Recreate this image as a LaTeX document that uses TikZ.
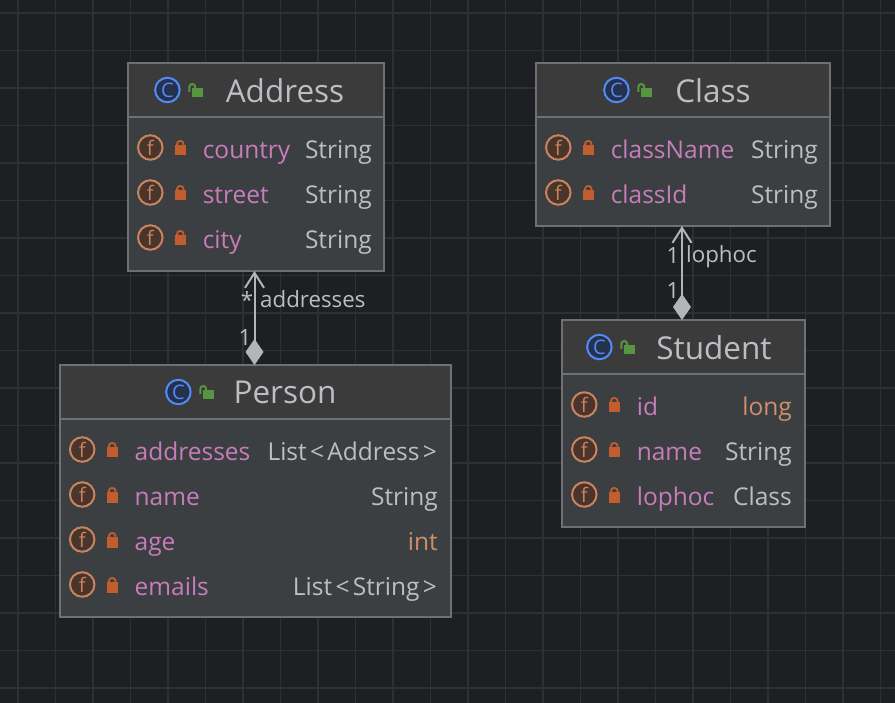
\documentclass[tikz,border=0pt]{standalone}
\usepackage{fontspec}
\setmainfont{Open Sans}
\usetikzlibrary{arrows.meta}
\definecolor{bg}{HTML}{1E1F22}
\definecolor{gridc}{HTML}{2F3032}
\definecolor{bodyc}{HTML}{3C3F41}
\definecolor{headc}{HTML}{3B3B3B}
\definecolor{edgec}{HTML}{6E7174}
\definecolor{textc}{HTML}{BCBEC4}
\definecolor{fieldc}{HTML}{C77DBB}
\definecolor{kwc}{HTML}{CF8E6D}
\definecolor{fring}{HTML}{C9835E}
\definecolor{ffill}{HTML}{4A352C}
\definecolor{lockc}{HTML}{C25E2E}
\definecolor{greenc}{HTML}{57963F}
\definecolor{cblue}{HTML}{548AF7}
\definecolor{cfill}{HTML}{25324D}
\definecolor{linkc}{HTML}{B4B5B8}
\newcommand{\ltg}{\kern3.4pt<\kern3.2pt}
\newcommand{\gtg}{\kern3.2pt>\kern1pt}
\tikzset{
  x=1pt,y=-1pt,
  boxbody/.style={draw=edgec,line width=2pt,fill=bodyc,anchor=north west,inner sep=0pt,outer sep=0pt},
  boxhead/.style={fill=headc,anchor=north west,inner sep=0pt,outer sep=0pt},
  titletext/.style={text=textc,font=\fontsize{31.5}{31.5}\selectfont,inner sep=0pt},
  fieldtext/.style={text=fieldc,font=\fontsize{24.5}{24.5}\selectfont,anchor=base west,inner sep=0pt},
  typetext/.style={text=textc,font=\fontsize{24.5}{24.5}\selectfont,anchor=base east,inner sep=0pt},
  kwtext/.style={typetext,text=kwc},
  labeltext/.style={text=textc,font=\fontsize{22.3}{22.3}\selectfont,inner sep=0pt},
  ficon/.style={circle,draw=fring,fill=ffill,line width=2pt,minimum size=24.5pt,inner sep=0pt,text=fring,font=\fontsize{20}{20}\selectfont},
  cicon/.style={circle,draw=cblue,fill=cfill,line width=2pt,minimum size=24.5pt,inner sep=0pt,text=cblue,font=\fontsize{20}{20}\selectfont},
  link/.style={draw=linkc,line width=2pt,{Diamond[length=26pt,width=18pt,fill=linkc]}-{Straight Barb[length=15pt,width=19pt,line width=2pt]}},
}
% name, x, y, w, h, title, title centre x, C icon x
\newcommand{\umlbox}[8]{%
  \node[boxbody,minimum width=#4pt,minimum height=#5pt] (#1) at (#2,#3) {};
  \node[boxhead,minimum width=#4pt-2pt,minimum height=53pt] (#1head) at (#2+1,#3+1) {};
  \draw[edgec,line width=1.5pt] (#1head.south west) -- (#1head.south east);
  \node[titletext] (#1title) at (#7,#3+27.5) {#6};
  \node[cicon] (#1c) at (#8,#3+27) {C};
  \begin{scope}[shift={(#8+29,#3+28)}]
    \fill[greenc] (-4,-3) rectangle (7,6);
    \draw[greenc,line width=2pt,rounded corners=2.8pt] (-7,1) -- (-7,-7) -- (-1.2,-7) -- (-1.2,-2.5);
  \end{scope}
}
% name, x of icon, y of row, field, type, type right x, type style
\newcommand{\umlfield}[7]{%
  \node[ficon] (#1i) at (#2,#3-2.5) {f};
  \begin{scope}[shift={(#2+30,#3)}]
    \fill[lockc] (-5.5,-5) rectangle (5.5,5.5);
    \draw[lockc,line width=1.8pt,rounded corners=2.8pt] (-3.2,-4) -- (-3.2,-9) -- (3.2,-9) -- (3.2,-4);
  \end{scope}
  \node[fieldtext] (#1n) at (#2+52.3,#3+8.5) {#4};
  \node[#7] (#1t) at (#6,#3+8.5) {#5};
}
\begin{document}
\begin{tikzpicture}
\useasboundingbox (0,0) rectangle (895,703);
\fill[bg] (0,0) rectangle (895,703);
\foreach \k in {0,...,23} \draw[gridc,line width=1.2pt] (18+37.5*\k,0) -- (18+37.5*\k,703);
\foreach \k in {0,...,18} \draw[gridc,line width=1.2pt] (0,13+37.5*\k) -- (895,13+37.5*\k);

\umlbox{addr}{128}{63}{256}{208}{Address}{285}{167.4}
\umlfield{addrA}{150.3}{150}{country}{String}{372}{typetext}
\umlfield{addrB}{150.3}{195}{street}{String}{372}{typetext}
\umlfield{addrC}{150.3}{240}{city}{String}{372}{typetext}

\umlbox{pers}{60}{365}{391}{252}{Person}{285}{178.4}
\umlfield{persA}{82.2}{452}{addresses}{List\ltg Address\gtg}{438}{typetext}
\umlfield{persB}{82.2}{497}{name}{String}{438}{typetext}
\umlfield{persC}{82.2}{542}{age}{int}{438}{kwtext}
\umlfield{persD}{82.2}{587}{emails}{List\ltg String\gtg}{438}{typetext}

\umlbox{clas}{536}{63}{294}{163}{Class}{713}{616.4}
\umlfield{clasA}{558.3}{150}{className}{String}{818}{typetext}
\umlfield{clasB}{558.3}{195}{classId}{String}{818}{typetext}

\umlbox{stud}{562}{320}{243}{207}{Student}{714}{599.4}
\umlfield{studA}{584.3}{407}{id}{long}{792}{kwtext}
\umlfield{studB}{584.3}{452}{name}{String}{792}{typetext}
\umlfield{studC}{584.3}{497}{lophoc}{Class}{792}{typetext}

\coordinate (lineA) at (254.5,300);
\coordinate (lineB) at (682,270);
\draw[link] (pers.north -| lineA) -- (addr.south -| lineA);
\draw[link] (stud.north -| lineB) -- (clas.south -| lineB);

\node[labeltext] (lstar) at (247,300) {*};
\node[labeltext,anchor=base west] (laddr) at (260,308) {addresses};
\node[labeltext] (lone) at (245,338) {1};
\node[labeltext] (lcl) at (673,256) {1};
\node[labeltext,anchor=base west] (lloph) at (686,263) {lophoc};
\node[labeltext] (lst) at (673,291) {1};
\end{tikzpicture}
\end{document}
